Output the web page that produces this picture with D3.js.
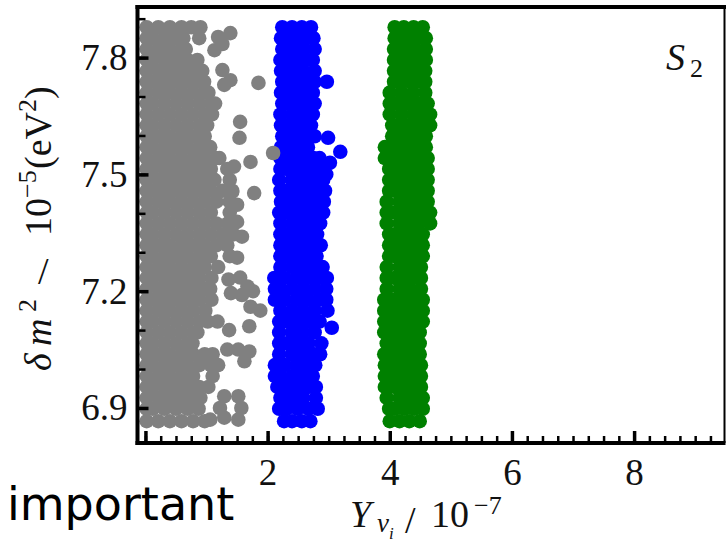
<!DOCTYPE html>
<html lang="en">
<head>
<meta charset="utf-8">
<script src="https://cdn.jsdelivr.net/npm/d3@7"></script>
<style>
    body { margin: 0; background: #fff; }
    svg { display: block; }
</style>
</head>
<body>
<script>
// tick values / labels
const xTickValues = [0, 2, 4, 6, 8];
const xTickLabels = ["", "2", "4", "6", "8"];
const yTickValues = [6.9, 7.2, 7.5, 7.8];
const yTickLabels = ["6.9", "7.2", "7.5", "7.8"];

// scatter clouds, one row per delta m^2 level: [y, x, x, ...]
const grayRows = [
    [7.878, 0.02, 0.21, 0.40, 0.59, 0.75, 0.90],
    [7.850, 0.02, 0.12, 0.31, 0.50, 0.62, 0.88],
    [7.822, 0.02, 0.21, 0.40, 0.59, 0.66],
    [7.794, 0.02, 0.12, 0.31, 0.50, 0.69, 0.85],
    [7.766, 0.02, 0.21, 0.40, 0.59, 0.78, 0.93],
    [7.738, 0.02, 0.12, 0.31, 0.50, 0.69, 0.88, 0.96],
    [7.710, 0.02, 0.21, 0.40, 0.59, 0.78, 0.97, 1.03],
    [7.682, 0.02, 0.12, 0.31, 0.50, 0.69, 0.88, 1.07, 1.14],
    [7.654, 0.02, 0.21, 0.40, 0.59, 0.78, 0.97, 1.09],
    [7.626, 0.02, 0.12, 0.31, 0.50, 0.69, 0.88, 1.01],
    [7.598, 0.02, 0.21, 0.40, 0.59, 0.78, 0.97],
    [7.570, 0.02, 0.12, 0.31, 0.50, 0.69, 0.88, 1.06],
    [7.542, 0.02, 0.21, 0.40, 0.59, 0.78, 0.97, 1.16, 1.21],
    [7.514, 0.02, 0.12, 0.31, 0.50, 0.69, 0.88, 1.07, 1.34],
    [7.486, 0.02, 0.21, 0.40, 0.59, 0.78, 0.97, 1.13, 1.38],
    [7.458, 0.02, 0.12, 0.31, 0.50, 0.69, 0.88, 1.07, 1.26, 1.42],
    [7.430, 0.02, 0.21, 0.40, 0.59, 0.78, 0.97, 1.16, 1.38],
    [7.402, 0.02, 0.12, 0.31, 0.50, 0.69, 0.88, 1.07, 1.38],
    [7.374, 0.02, 0.21, 0.40, 0.59, 0.78, 0.97, 1.16, 1.35, 1.45],
    [7.346, 0.02, 0.12, 0.31, 0.50, 0.69, 0.88, 1.07, 1.26, 1.44],
    [7.318, 0.02, 0.21, 0.40, 0.59, 0.78, 0.97, 1.16, 1.34],
    [7.290, 0.02, 0.12, 0.31, 0.50, 0.69, 0.88, 1.07, 1.38],
    [7.262, 0.02, 0.21, 0.40, 0.59, 0.78, 0.97, 1.19],
    [7.234, 0.02, 0.12, 0.31, 0.50, 0.69, 0.88, 1.08],
    [7.206, 0.02, 0.21, 0.40, 0.59, 0.78, 0.97, 1.06],
    [7.178, 0.02, 0.12, 0.31, 0.50, 0.69, 0.88, 1.08],
    [7.150, 0.02, 0.21, 0.40, 0.59, 0.78, 0.98],
    [7.122, 0.02, 0.12, 0.31, 0.50, 0.69, 0.88, 1.02],
    [7.094, 0.02, 0.21, 0.40, 0.59, 0.78, 0.85],
    [7.066, 0.02, 0.12, 0.31, 0.50, 0.69, 0.77],
    [7.038, 0.02, 0.21, 0.40, 0.59, 0.78, 0.97, 1.10],
    [7.010, 0.02, 0.12, 0.31, 0.50, 0.69, 0.88, 1.07, 1.19],
    [6.982, 0.02, 0.21, 0.40, 0.59, 0.78, 1.10],
    [6.954, 0.02, 0.12, 0.31, 0.50, 0.69, 0.88, 1.03],
    [6.926, 0.02, 0.21, 0.40, 0.59, 0.78, 0.90],
    [6.898, 0.02, 0.12, 0.31, 0.50, 0.69, 0.87],
    [6.866, 0.02, 0.21, 0.40, 0.59, 0.78, 0.97]
];
const grayLoose = [
    [1.19, 7.853], [1.39, 7.863], [1.26, 7.835], [1.13, 7.819],
    [1.26, 7.768], [1.39, 7.742], [1.29, 7.730], [1.85, 7.735],
    [1.55, 7.635], [1.54, 7.594], [1.72, 7.532], [1.45, 7.520],
    [2.09, 7.555], [1.42, 7.455], [1.78, 7.452], [1.50, 7.422],
    [1.50, 7.378], [1.58, 7.340], [1.50, 7.286],
    [1.36, 7.230], [1.55, 7.235], [1.67, 7.212], [1.76, 7.200], [1.40, 7.195], [1.58, 7.190],
    [1.72, 7.160], [1.88, 7.150], [1.70, 7.110], [1.18, 7.122], [1.37, 7.100],
    [1.34, 7.050], [1.52, 7.050], [1.70, 7.045], [1.62, 7.020],
    [1.29, 6.930], [1.52, 6.930], [1.57, 6.900], [1.52, 6.870], [1.29, 6.875], [1.22, 6.900],
    [1.06, 6.870]
];

const blueRows = [
    [7.878, 2.24, 2.40, 2.56, 2.71],
    [7.850, 2.22, 2.33, 2.49, 2.65, 2.75],
    [7.822, 2.24, 2.40, 2.58, 2.77],
    [7.794, 2.21, 2.31, 2.49, 2.65, 2.74],
    [7.766, 2.22, 2.40, 2.58, 2.77],
    [7.738, 2.24, 2.31, 2.49, 2.67, 2.77, 2.97],
    [7.710, 2.22, 2.40, 2.58, 2.74],
    [7.682, 2.24, 2.31, 2.49, 2.67, 2.77],
    [7.654, 2.21, 2.40, 2.58, 2.74],
    [7.626, 2.22, 2.31, 2.49, 2.65, 2.71],
    [7.598, 2.24, 2.40, 2.58, 2.77],
    [7.570, 2.22, 2.31, 2.49, 2.66],
    [7.542, 2.21, 2.40, 2.58, 2.75, 2.85],
    [7.514, 2.21, 2.31, 2.49, 2.67, 2.85, 2.92],
    [7.486, 2.19, 2.40, 2.58, 2.76, 2.91],
    [7.458, 2.21, 2.31, 2.49, 2.67, 2.85, 2.94],
    [7.430, 2.22, 2.40, 2.58, 2.76, 2.92],
    [7.402, 2.19, 2.31, 2.49, 2.67, 2.85, 2.91],
    [7.374, 2.21, 2.40, 2.58, 2.76, 2.86],
    [7.346, 2.21, 2.31, 2.49, 2.67, 2.81],
    [7.318, 2.21, 2.40, 2.58, 2.76, 2.87],
    [7.290, 2.21, 2.31, 2.49, 2.67, 2.80],
    [7.262, 2.21, 2.40, 2.58, 2.76, 2.90],
    [7.234, 2.11, 2.28, 2.47, 2.66, 2.85, 2.97],
    [7.206, 2.12, 2.21, 2.40, 2.58, 2.77, 2.96],
    [7.178, 2.12, 2.28, 2.47, 2.66, 2.85, 2.96],
    [7.150, 2.21, 2.40, 2.58, 2.77, 2.98],
    [7.122, 2.19, 2.31, 2.49, 2.67, 2.85],
    [7.094, 2.19, 2.40, 2.58, 2.77],
    [7.066, 2.19, 2.31, 2.49, 2.67, 2.88],
    [7.038, 2.19, 2.40, 2.58, 2.77, 2.86],
    [7.010, 2.12, 2.28, 2.47, 2.66, 2.78],
    [6.982, 2.12, 2.21, 2.40, 2.58, 2.74],
    [6.954, 2.16, 2.31, 2.49, 2.67, 2.79],
    [6.926, 2.21, 2.40, 2.58, 2.79],
    [6.898, 2.19, 2.31, 2.49, 2.67, 2.82],
    [6.866, 2.27, 2.40, 2.56, 2.70]
];
const blueLoose = [
    [2.99, 7.594], [3.19, 7.558], [3.02, 7.530], [2.96, 7.500], [3.05, 7.106]
];

const greenRows = [
    [7.878, 4.08, 4.23, 4.39, 4.54],
    [7.850, 4.08, 4.16, 4.32, 4.47, 4.59],
    [7.822, 4.07, 4.24, 4.41, 4.59],
    [7.794, 4.07, 4.16, 4.33, 4.50, 4.59],
    [7.766, 4.07, 4.24, 4.41, 4.58],
    [7.738, 4.07, 4.16, 4.33, 4.50, 4.58],
    [7.710, 4.00, 4.19, 4.38, 4.58],
    [7.682, 4.00, 4.10, 4.28, 4.46, 4.62],
    [7.654, 4.00, 4.19, 4.38, 4.54, 4.66],
    [7.626, 4.04, 4.12, 4.28, 4.44, 4.60, 4.66],
    [7.598, 4.04, 4.20, 4.36, 4.52, 4.59],
    [7.570, 3.92, 4.08, 4.24, 4.40, 4.59],
    [7.542, 3.92, 4.00, 4.16, 4.32, 4.48, 4.62],
    [7.514, 3.99, 4.08, 4.24, 4.40, 4.56, 4.62],
    [7.486, 3.99, 4.16, 4.32, 4.48, 4.62],
    [7.458, 3.99, 4.08, 4.24, 4.40, 4.56, 4.62],
    [7.430, 3.95, 4.16, 4.32, 4.48, 4.62],
    [7.402, 3.95, 4.08, 4.24, 4.40, 4.56, 4.66],
    [7.374, 3.95, 4.16, 4.32, 4.48, 4.66],
    [7.346, 3.99, 4.08, 4.24, 4.40, 4.54],
    [7.318, 3.99, 4.16, 4.32, 4.48, 4.54],
    [7.290, 3.99, 4.08, 4.24, 4.40, 4.54],
    [7.262, 3.95, 4.16, 4.32, 4.51],
    [7.234, 3.95, 4.08, 4.24, 4.40, 4.51],
    [7.206, 3.95, 4.16, 4.32, 4.51],
    [7.178, 3.91, 4.08, 4.24, 4.40, 4.54],
    [7.150, 3.91, 4.00, 4.16, 4.32, 4.48, 4.54],
    [7.122, 3.91, 4.08, 4.24, 4.40, 4.54],
    [7.094, 3.91, 4.00, 4.16, 4.32, 4.49],
    [7.066, 3.95, 4.08, 4.24, 4.40, 4.49],
    [7.038, 3.91, 4.00, 4.16, 4.32, 4.49],
    [7.010, 3.92, 4.08, 4.24, 4.40, 4.51],
    [6.982, 3.92, 4.00, 4.16, 4.32, 4.51],
    [6.954, 3.92, 4.08, 4.24, 4.40, 4.51],
    [6.926, 3.95, 4.16, 4.32, 4.48, 4.54],
    [6.898, 3.99, 4.08, 4.24, 4.40, 4.54],
    [6.866, 4.00, 4.16, 4.32, 4.49]
];

const rowsToPoints = (rows) => rows.flatMap((r) => r.slice(1).map((x) => [x, r[0]]));

const series = [
    { color: "#008000", points: rowsToPoints(greenRows) },
    { color: "#0000ff", points: rowsToPoints(blueRows).concat(blueLoose) },
    { color: "#808080", points: rowsToPoints(grayRows).concat(grayLoose) }
];

const SERIF = "'Liberation Serif', 'Times New Roman', Times, serif";

let w = 726;
let h = 544;
let svg = d3.select("body").append("svg").attr("width", w).attr("height", h);

let plotLeft = 137.5, plotRight = 724.5, plotTop = 7, plotBottom = 443;
let xScale = d3.scaleLinear().domain([-0.13, 9.48]).range([plotLeft, plotRight]);
let yScale = d3.scaleLinear().domain([6.81, 7.93]).range([plotBottom, plotTop]);

// points
series.forEach((s) => {
    svg.append("g")
        .selectAll("circle")
        .data(s.points)
        .enter()
        .append("circle")
        .attr("cx", (d) => xScale(d[0]))
        .attr("cy", (d) => yScale(d[1]))
        .attr("r", 7.3)
        .attr("fill", s.color);
});

// frame top / right
svg.append("line").attr("x1", plotLeft - 2).attr("x2", plotRight + 1.5).attr("y1", plotTop).attr("y2", plotTop)
    .attr("stroke", "#000").attr("stroke-width", 4);
svg.append("line").attr("x1", plotRight).attr("x2", plotRight).attr("y1", plotTop).attr("y2", plotBottom)
    .attr("stroke", "#000").attr("stroke-width", 2);

// minor ticks
let xMinor = d3.range(0, 9.4, 0.25);
let yMinor = d3.range(6.9, 7.95, 0.1);
svg.append("g")
    .attr("transform", "translate(0," + plotBottom + ")")
    .call(d3.axisBottom(xScale).tickValues(xMinor).tickSize(-7).tickSizeOuter(0).tickFormat(""))
    .call((g) => g.selectAll(".tick line").attr("stroke-width", 2.5))
    .call((g) => g.select(".domain").remove());
svg.append("g")
    .attr("transform", "translate(" + plotLeft + ",0)")
    .call(d3.axisLeft(yScale).tickValues(yMinor).tickSize(-8).tickSizeOuter(0).tickFormat(""))
    .call((g) => g.selectAll(".tick line").attr("stroke-width", 2.5))
    .call((g) => g.select(".domain").remove());

// major axes
let xAxis = d3.axisBottom(xScale).tickValues(xTickValues).tickSize(-12).tickSizeOuter(0).tickPadding(16)
    .tickFormat((d, i) => xTickLabels[i]);
let yAxis = d3.axisLeft(yScale).tickValues(yTickValues).tickSize(-11).tickSizeOuter(0).tickPadding(10)
    .tickFormat((d, i) => yTickLabels[i]);

const styleAxis = (g) => {
    g.attr("font-family", SERIF).attr("font-size", 37);
    g.selectAll(".tick line").attr("stroke-width", 3.5);
    g.selectAll(".tick text").attr("fill", "#111").attr("font-family", SERIF).attr("font-size", 37);
    g.select(".domain").attr("stroke-width", 4);
};

svg.append("g")
    .attr("transform", "translate(0," + plotBottom + ")")
    .call(xAxis)
    .call(styleAxis)
    .call((g) => g.select(".domain").attr("d", "M" + (plotLeft - 2) + ",0H" + (plotRight + 1)));

svg.append("g")
    .attr("transform", "translate(" + plotLeft + ",0)")
    .call(yAxis)
    .call(styleAxis)
    .call((g) => g.select(".domain").attr("d", "M0," + (plotTop - 2) + "V" + (plotBottom + 2)));

// panel label S_2
let s2 = svg.append("text").attr("font-family", SERIF).attr("fill", "#111")
    .attr("x", 666).attr("y", 70).attr("font-size", 38);
s2.append("tspan").attr("font-style", "italic").text("S");
s2.append("tspan").attr("font-size", 26).attr("x", 690).attr("y", 77).text("2");

// x title
let xt = svg.append("text").attr("font-family", SERIF).attr("fill", "#111").attr("font-size", 38);
xt.append("tspan").attr("x", 350).attr("y", 527).attr("font-style", "italic").text("Y");
xt.append("tspan").attr("x", 377).attr("y", 532).attr("font-size", 27).attr("font-style", "italic").text("ν");
xt.append("tspan").attr("x", 389).attr("y", 539).attr("font-size", 17).attr("font-style", "italic").text("i");
xt.append("tspan").attr("x", 405).attr("y", 533).text("/");
xt.append("tspan").attr("x", 431).attr("y", 527).text("10");
xt.append("tspan").attr("x", 474).attr("y", 514).attr("font-size", 26).text("−7");

// y title (rotated)
let yt = svg.append("text").attr("font-family", SERIF).attr("fill", "#111").attr("font-size", 38)
    .attr("transform", "translate(51,0) rotate(-90)");
yt.append("tspan").attr("x", -371).attr("y", 0).attr("font-style", "italic").text("δ");
yt.append("tspan").attr("x", -346).attr("y", 0).attr("font-style", "italic").text("m");
yt.append("tspan").attr("x", -312).attr("y", -15).attr("font-size", 26).text("2");
yt.append("tspan").attr("x", -236).attr("y", 0).text("10");
yt.append("tspan").attr("x", -198).attr("y", -15).attr("font-size", 26).text("−5");
yt.append("tspan").attr("x", -169).attr("y", 0).text("(eV");
yt.append("tspan").attr("y", -15).attr("font-size", 26).text("2");
yt.append("tspan").attr("y", 0).text(")");
svg.append("text").attr("font-family", SERIF).attr("fill", "#111").attr("font-size", 38)
    .attr("x", 38).attr("y", 284).text("/");

// overlay word
svg.append("text")
    .attr("x", 7).attr("y", 520)
    .attr("font-family", "'DejaVu Sans', Verdana, sans-serif")
    .attr("font-size", 46)
    .attr("fill", "#000")
    .text("important");
</script>
</body>
</html>
